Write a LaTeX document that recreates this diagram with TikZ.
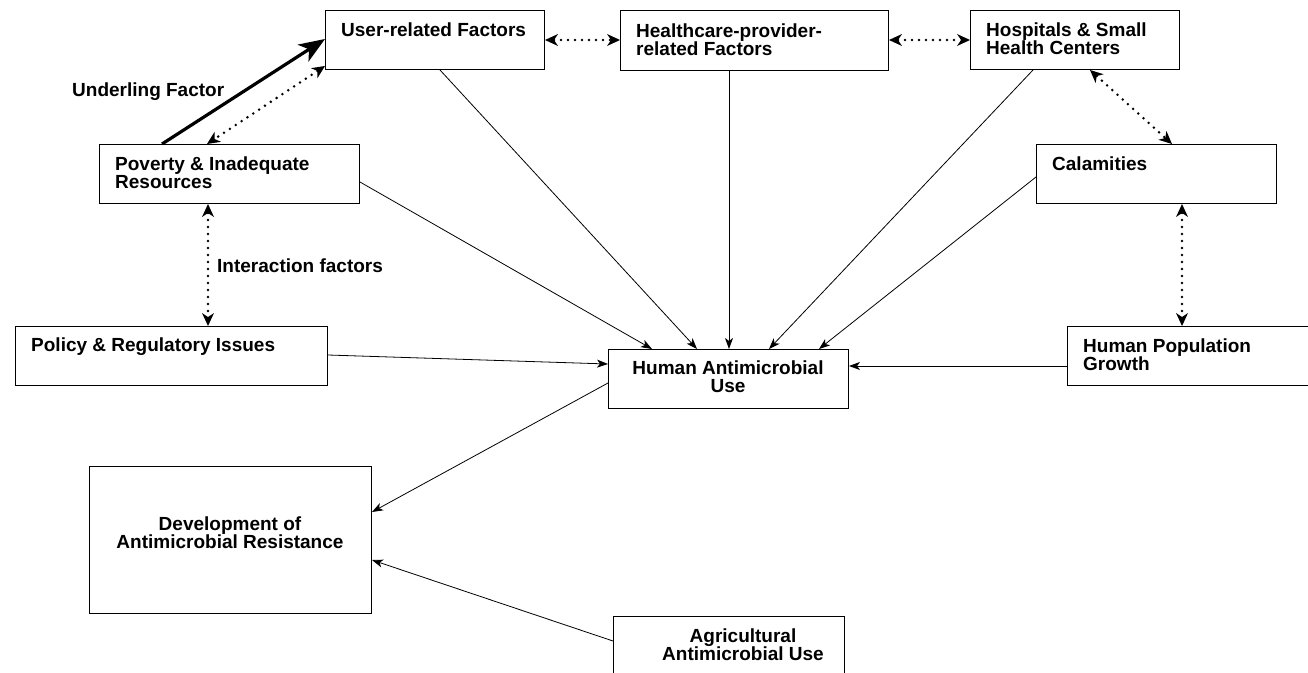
\documentclass[tikz,border=0pt]{standalone}
\usepackage{fontspec}
\setmainfont{Liberation Sans}
\usetikzlibrary{arrows.meta}
\begin{document}
\begin{tikzpicture}[x=1pt,y=-1pt,
  box/.style={draw,line width=1pt,inner sep=0pt,anchor=north west},
  lab/.style={font=\bfseries\fontsize{19}{18}\selectfont,inner sep=0pt,anchor=north west,align=left},
  clab/.style={font=\bfseries\fontsize{19}{18}\selectfont,inner sep=0pt,anchor=north,align=center},
  arr/.style={line width=0.8pt,-{Stealth[length=11pt,width=8pt,inset=3pt]}},
  dots/.style={line width=2.8pt,dash pattern=on 0pt off 7pt,line cap=round,
    {Stealth[length=13pt,width=12pt,inset=4pt,line width=0pt]}-{Stealth[length=13pt,width=12pt,inset=4pt,line width=0pt]}},
  thick arr/.style={line width=3.2pt,-{Stealth[length=26pt,width=20pt,inset=7pt]}}
]
\useasboundingbox (0,0) rectangle (1308,672);
\fill[white] (0,0) rectangle (1308,672);
% boxes
\node[box,minimum width=219pt,minimum height=59pt] (user) at (325,10) {};
\node[box,minimum width=268pt,minimum height=60pt] (hcp) at (620,10) {};
\node[box,minimum width=209pt,minimum height=59pt] (hosp) at (970,10) {};
\node[box,minimum width=240pt,minimum height=59pt] (cal) at (1036,144) {};
\node[box,minimum width=260pt,minimum height=59pt] (hpg) at (1067,326) {};
\node[box,minimum width=240pt,minimum height=59pt] (hau) at (608,349) {};
\node[box,minimum width=260pt,minimum height=59pt] (pov) at (99,144) {};
\node[box,minimum width=312pt,minimum height=59pt] (pol) at (15,326) {};
\node[box,minimum width=282pt,minimum height=147pt] (dev) at (89,466) {};
\node[box,minimum width=231pt,minimum height=90pt] (agri) at (613,616) {};
% texts
\node[lab] (userT) at (341,23) {User-related Factors};
\node[lab] (hcpT) at (636,24) {Healthcare-provider-\\related Factors};
\node[lab] (hospT) at (986,23) {Hospitals \& Small\\Health Centers};
\node[lab] (calT) at (1052,157) {Calamities};
\node[lab] (hpgT) at (1083,339) {Human Population\\Growth};
\node[lab] (povT) at (115,157) {Poverty \& Inadequate\\Resources};
\node[lab] (polT) at (31,338) {Policy \& Regulatory Issues};
\node[clab] (hauT) at (728,361) {Human Antimicrobial\\Use};
\node[clab] (devT) at (230,517) {Development of\\Antimicrobial Resistance};
\node[clab] (agriT) at (743,629) {Agricultural\\Antimicrobial Use};
\node[lab] (undT) at (72,83) {Underling Factor};
\node[lab] (intT) at (217,259) {Interaction factors};
% solid arrows into HAU
\draw[arr] ([xshift=115pt]user.south west) -- ([xshift=89pt]hau.north west);
\draw[arr] ([xshift=109pt]hcp.south west) -- ([xshift=121pt]hau.north west);
\draw[arr] ([xshift=63pt]hosp.south west) -- ([xshift=161pt]hau.north west);
\draw[arr] ([yshift=-33pt]cal.north west) -- ([xshift=211pt]hau.north west);
\draw[arr] ([yshift=-38pt]pov.north east) -- ([xshift=44pt]hau.north west);
\draw[arr] ([yshift=-29pt]pol.north east) -- ([yshift=-15pt]hau.north west);
\draw[arr] ([yshift=-40pt]hpg.north west) -- ([yshift=-17pt]hau.north east);
\draw[arr] ([yshift=-34pt]hau.north west) -- ([yshift=-46pt]dev.north east);
\draw[arr] ([yshift=-25pt]agri.north west) -- ([yshift=-94pt]dev.north east);
% dotted two-way arrows
\draw[dots] ([yshift=-30pt]user.north east) -- ([yshift=-30pt]hcp.north west);
\draw[dots] ([yshift=-30pt]hcp.north east) -- ([yshift=-30pt]hosp.north west);
\draw[dots] ([yshift=4pt]user.south west) -- ([xshift=108pt]pov.north west);
\draw[dots] ([xshift=120pt]hosp.south west) -- ([xshift=136pt]cal.north west);
\draw[dots] ([xshift=146pt]cal.south west) -- ([xshift=115pt]hpg.north west);
\draw[dots] ([xshift=109pt]pov.south west) -- ([xshift=193pt]pol.north west);
% underlying factor arrow
\draw[thick arr] ([xshift=63pt]pov.north west) -- ([yshift=-29pt]user.north west);
\end{tikzpicture}
\end{document}
